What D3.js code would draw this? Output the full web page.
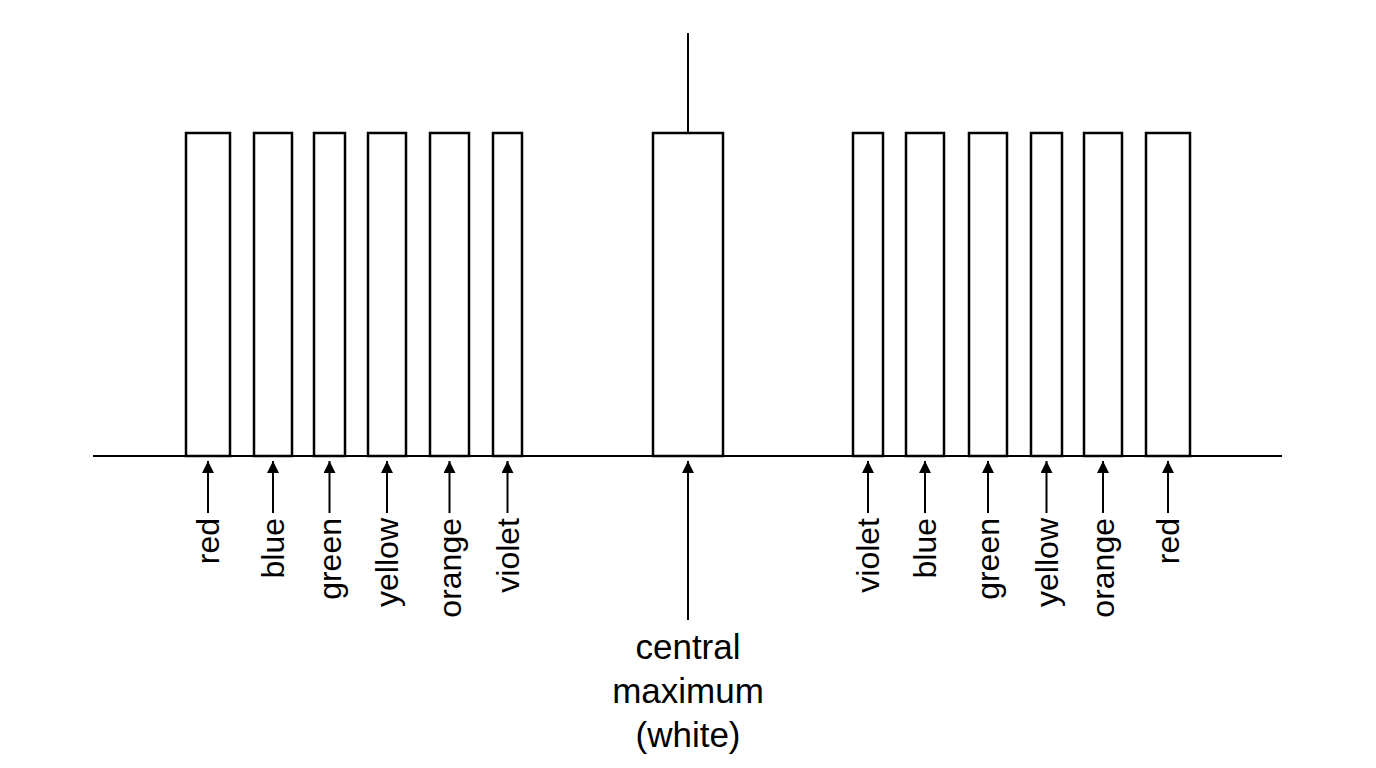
<!DOCTYPE html>
<html><head><meta charset="utf-8">
<script src="https://cdn.jsdelivr.net/npm/d3@7"></script>
<style>body{margin:0;background:#fff}</style></head>
<body><svg id="c" width="1376" height="768"></svg>
<script>
const labels = ["red","blue","green","yellow","orange","violet","central","violet","blue","green","yellow","orange","red"];
const starts = [186,254,314,368,430,493,653,853,906,969,1031,1084,1146];
const ends   = [230,292,345,406,469,522,723,883,944,1007,1062,1122,1190];
const intensity = [1,1,1,1,1,1,1,1,1,1,1,1,1];
const centralText = ["central","maximum","(white)"];

const svg = d3.select("#c");
const x = d3.scaleLinear().domain([0,1376]).range([0,1376]);
const y = d3.scaleLinear().domain([0,1]).range([456,133]);
const font = "Liberation Sans, Arial, sans-serif";

svg.append("defs").append("marker").attr("id","ah").attr("viewBox","0 0 10 10")
  .attr("refX",10).attr("refY",5).attr("markerWidth",18).attr("markerHeight",12)
  .attr("markerUnits","userSpaceOnUse").attr("orient","auto")
  .append("path").attr("d","M0,0L10,5L0,10z").attr("fill","#000");

const data = labels.map((l,i)=>({l,s:starts[i],e:ends[i],v:intensity[i],c:(starts[i]+ends[i])/2,central:l==="central"}));

svg.selectAll("rect.bar").data(data).enter().append("rect")
  .attr("x",d=>x(d.s)).attr("width",d=>x(d.e)-x(d.s))
  .attr("y",d=>y(d.v)).attr("height",d=>y(0)-y(d.v))
  .attr("fill","#fff").attr("stroke","#000").attr("stroke-width",2.5);

svg.append("line").attr("x1",x(93)).attr("x2",x(1282)).attr("y1",y(0)).attr("y2",y(0))
  .attr("stroke","#000").attr("stroke-width",2);

const cen = data.find(d=>d.central);
svg.append("line").attr("x1",x(cen.c)).attr("x2",x(cen.c)).attr("y1",33).attr("y2",y(1))
  .attr("stroke","#000").attr("stroke-width",2);

svg.selectAll("line.arr").data(data).enter().append("line")
  .attr("x1",d=>x(d.c)).attr("x2",d=>x(d.c))
  .attr("y1",d=>d.central?620:513).attr("y2",461)
  .attr("stroke","#000").attr("stroke-width",2).attr("marker-end","url(#ah)");

svg.selectAll("text.lab").data(data.filter(d=>!d.central)).enter().append("text")
  .attr("transform",d=>`translate(${x(d.c)+11},518) rotate(-90)`)
  .attr("text-anchor","end").attr("font-family",font).attr("font-size",32)
  .text(d=>d.l);

svg.selectAll("text.cen").data(centralText).enter().append("text")
  .attr("x",x(cen.c)).attr("y",(d,i)=>659+i*44).attr("text-anchor","middle")
  .attr("font-family",font).attr("font-size",35).text(d=>d);
</script></body></html>
